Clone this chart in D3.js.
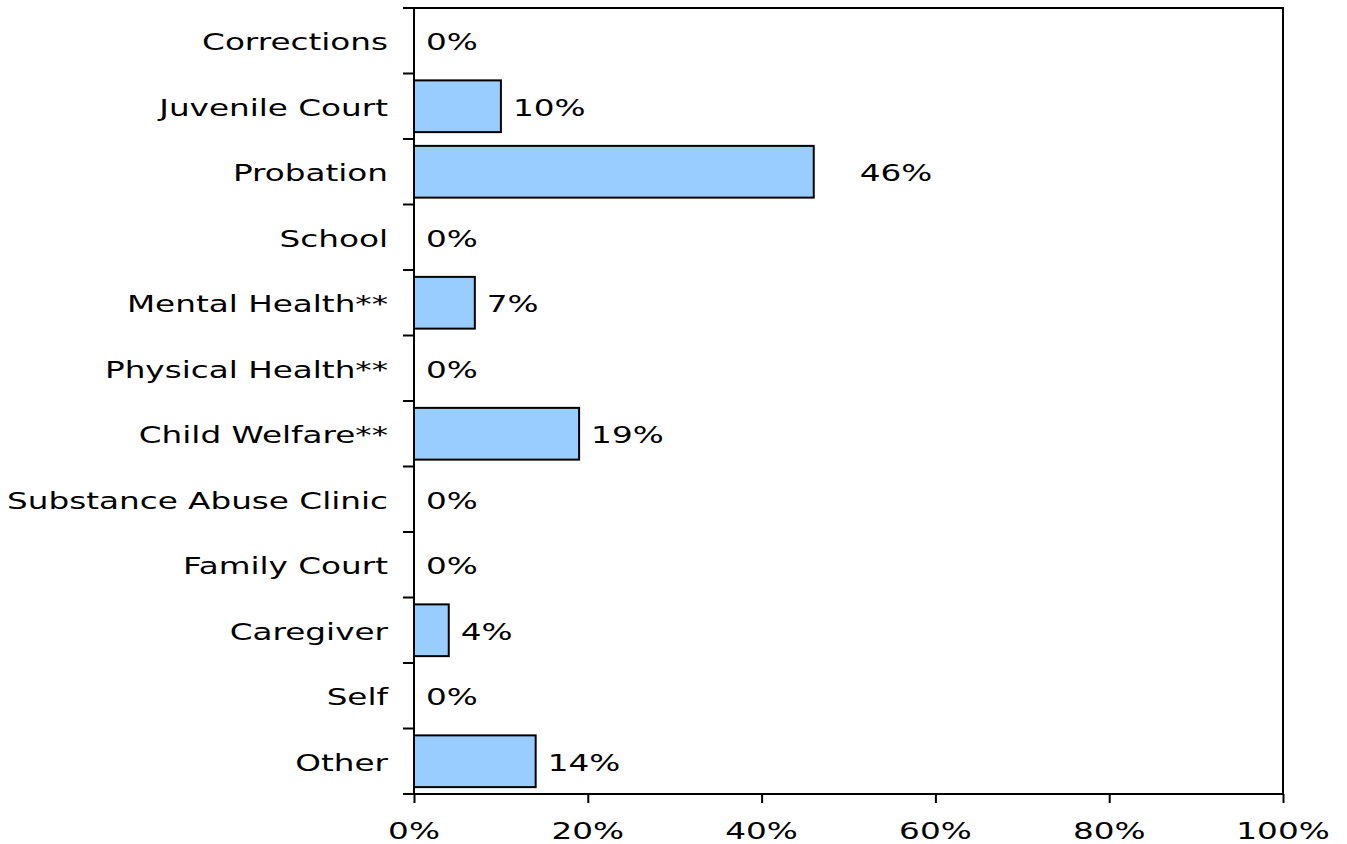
<!DOCTYPE html>
<html><head><meta charset="utf-8">
<script src="https://cdn.jsdelivr.net/npm/d3@7"></script>
<style>body{margin:0;background:#fff}svg{display:block}text{font-family:"DejaVu Sans",Verdana,sans-serif;fill:#000}</style>
</head><body><svg id="c" width="1347" height="844"></svg>
<script>
const categories = ["Corrections","Juvenile Court","Probation","School","Mental Health**","Physical Health**","Child Welfare**","Substance Abuse Clinic","Family Court","Caregiver","Self","Other"];
const values = [0,10,46,0,7,0,19,0,0,4,0,14];
const xTicks = [0,20,40,60,80,100];

const svg = d3.select("#c");
const m = {l:414, r:1283, t:8, b:794};
const x = d3.scaleLinear().domain([0,100]).range([m.l,m.r]);
const y = d3.scaleBand().domain(categories).range([m.t,m.b]).paddingInner(0.21).paddingOuter(0.105);
const yb = d3.scaleBand().domain(categories).range([m.t,m.b]);
const fs = 23, sx = 1.42;

function label(sel, tx, ty, anchor, txt){
  sel.append("text").attr("transform",`translate(${tx},${ty}) scale(${sx},1)`)
    .attr("text-anchor",anchor).attr("font-size",fs).text(txt);
}

// frame
svg.append("rect").attr("x",m.l).attr("y",m.t).attr("width",m.r-m.l).attr("height",m.b-m.t)
  .attr("fill","none").attr("stroke","#000").attr("stroke-width",2);

// bars
svg.selectAll("rect.bar").data(values.map((v,i)=>({v,c:categories[i]})).filter(d=>d.v>0)).enter().append("rect").attr("class","bar")
  .attr("x",x(0)).attr("y",d=>y(d.c)).attr("width",d=>x(d.v)-x(0)).attr("height",y.bandwidth())
  .attr("fill","#99CCFF").attr("stroke","#000").attr("stroke-width",2);

// value labels
const nudge = v => v>40 ? 46 : 12;
const gv = svg.append("g");
values.forEach((v,i)=>label(gv, x(v)+nudge(v), yb(categories[i])+yb.bandwidth()/2+9.5, "start", v+"%"));

// y axis ticks at category boundaries
const bounds = categories.map(c=>yb(c)).concat([m.b]);
svg.selectAll("line.yt").data(bounds).enter().append("line")
  .attr("x1",m.l-11).attr("x2",m.l).attr("y1",d=>d).attr("y2",d=>d).attr("stroke","#000").attr("stroke-width",2);
const gc = svg.append("g");
categories.forEach(c=>label(gc, 388, yb(c)+yb.bandwidth()/2+9.5, "end", c));

// x axis
const xa = svg.append("g").attr("transform",`translate(0,${m.b})`)
  .call(d3.axisBottom(x).tickValues(xTicks).tickSize(9).tickFormat(""));
xa.select(".domain").remove();
xa.selectAll("line").attr("stroke","#000").attr("stroke-width",2);
const gx = svg.append("g");
xTicks.forEach(t=>label(gx, x(t), 839, "middle", t+"%"));
</script></body></html>
